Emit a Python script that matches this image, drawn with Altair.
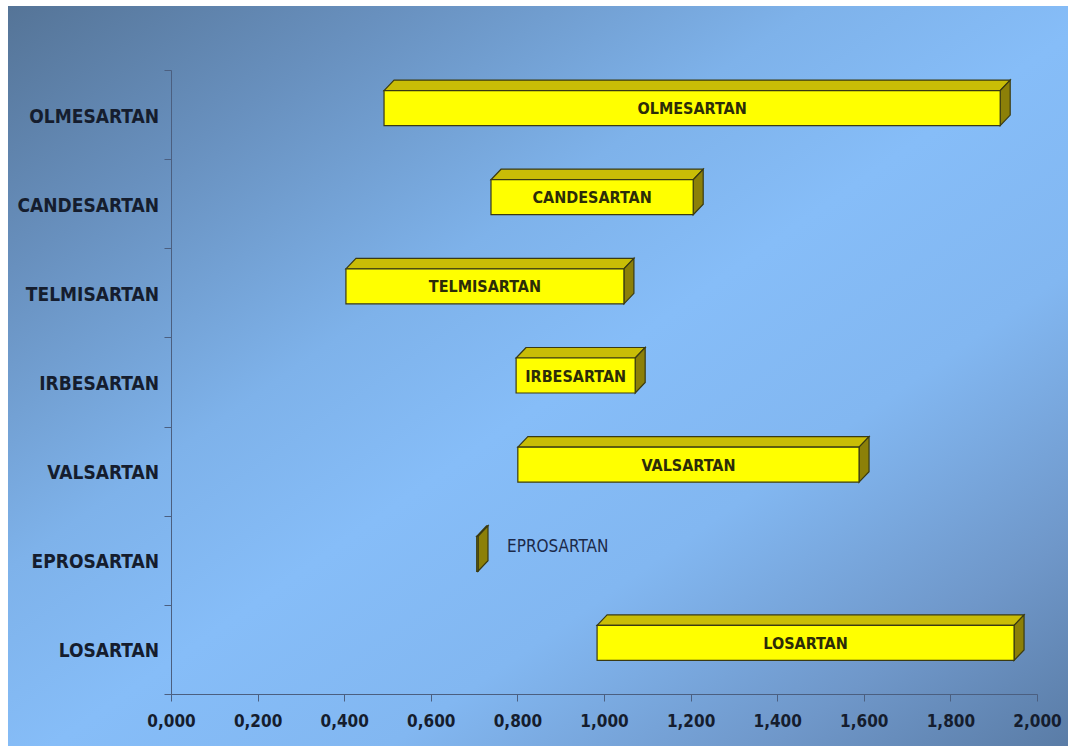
import altair as alt
import pandas as pd

# ---- data ----
categories = ["OLMESARTAN", "CANDESARTAN", "TELMISARTAN", "IRBESARTAN",
              "VALSARTAN", "EPROSARTAN", "LOSARTAN"]
start_vals = [0.492, 0.739, 0.404, 0.797, 0.801, 0.706, 0.984]
end_vals = [1.915, 1.206, 1.046, 1.072, 1.589, 0.709, 1.947]
x_ticks = [0.0, 0.2, 0.4, 0.6, 0.8, 1.0, 1.2, 1.4, 1.6, 1.8, 2.0]

# ---- layout / style ----
W, H = 866, 624
XMAX, YMAX = 2.0, 7.0
FONT = "Liberation Sans Narrow, Arial Narrow, DejaVu Sans Condensed, sans-serif"
DX = 10 / W * XMAX          # 3D depth (horizontal) in data units
DY = 10.5 / H * YMAX        # 3D depth (vertical) in data units
SHIFT = 6.5 / H * YMAX      # front face sits a bit above band centre
HALF = 17.5 / H * YMAX      # half height of front face
FRONT = "#ffff00"
TOP = "#c9bd06"
SIDE = "#8c8008"
EDGE = "#3a3a12"
AXIS_COL = "#4b5f80"
TXT = "#151d2e"

n = len(categories)
bars = pd.DataFrame({"name": categories, "start": start_vals, "end": end_vals})
bars["pos"] = [n - i - 0.5 for i in range(n)]
bars["fc"] = bars["pos"] + SHIFT
bars["ft"] = bars["fc"] + HALF
bars["fb"] = bars["fc"] - HALF
bars["mid"] = (bars["start"] + bars["end"]) / 2
bars["wide"] = (bars["end"] - bars["start"]) >= 0.1

top_rows, side_rows = [], []
for _, r in bars.iterrows():
    top_rows.append({"name": r["name"], "y": r["ft"], "x": r["start"], "x2": r["end"]})
    top_rows.append({"name": r["name"], "y": r["ft"] + DY, "x": r["start"] + DX, "x2": r["end"] + DX})
    side_rows.append({"name": r["name"], "x": r["end"], "y": r["fb"], "y2": r["ft"]})
    side_rows.append({"name": r["name"], "x": r["end"] + DX, "y": r["fb"] + DY, "y2": r["ft"] + DY})
top_df = pd.DataFrame(top_rows)
side_df = pd.DataFrame(side_rows)

xs = alt.Scale(domain=[0, XMAX], nice=False, zero=False)
ys = alt.Scale(domain=[0, YMAX], nice=False, zero=False)

x_axis = alt.Axis(values=x_ticks, grid=False, tickSize=7, tickColor=AXIS_COL,
                  domainColor=AXIS_COL, labelFont=FONT, labelFontSize=17,
                  labelFontWeight="bold", labelColor=TXT, labelPadding=12,
                  labelFlush=False, labelOverlap=False, zindex=1,
                  labelExpr="replace(format(datum.value, '.3f'), '.', ',')")
y_axis = alt.Axis(values=list(range(n + 1)), labels=False, grid=False, tickSize=7,
                  tickColor=AXIS_COL, domainColor=AXIS_COL, zindex=1)


def X(field):
    return alt.X(field, scale=xs, axis=x_axis, title=None)


def Y(field):
    return alt.Y(field, scale=ys, axis=y_axis, title=None)


grad = alt.Gradient(
    gradient="linear", x1=0, y1=0, x2=1, y2=1,
    stops=[
        alt.GradientStop(color="#557497", offset=0.0),
        alt.GradientStop(color="#6890be", offset=0.18),
        alt.GradientStop(color="#7eb2ea", offset=0.38),
        alt.GradientStop(color="#86bdf8", offset=0.52),
        alt.GradientStop(color="#82b7f1", offset=0.68),
        alt.GradientStop(color="#6f97c9", offset=0.86),
        alt.GradientStop(color="#5a7ca6", offset=1.0),
    ],
)

bg = alt.Chart(pd.DataFrame({"a": [0]})).mark_rect(fill=grad).encode(
    x=alt.value(-163), x2=alt.value(1068 - 171),
    y=alt.value(-64), y2=alt.value(746 - 70),
)

front = alt.Chart(bars).mark_rect(fill=FRONT, stroke=EDGE, strokeWidth=1.2).encode(
    x=X("start:Q"), x2="end:Q",
    y=Y("fb:Q"), y2="ft:Q",
)

top = alt.Chart(top_df).mark_area(orient="horizontal", fill=TOP, stroke=EDGE,
                                  strokeWidth=1.2, opacity=1).encode(
    y=Y("y:Q"), x=X("x:Q"), x2="x2:Q", detail="name:N",
)

side = alt.Chart(side_df).mark_area(orient="vertical", fill=SIDE, stroke=EDGE,
                                    strokeWidth=1.2, opacity=1).encode(
    x=X("x:Q"), y=Y("y:Q"), y2="y2:Q", detail="name:N",
)

inside = alt.Chart(bars).transform_filter("datum.wide").mark_text(
    font=FONT, fontSize=16, fontWeight="bold", color="#2c2c08",
    align="center", baseline="middle", dy=1,
).encode(
    x=X("mid:Q"), y=Y("fc:Q"), text="name:N",
)

outside = alt.Chart(bars).transform_filter("!datum.wide").mark_text(
    font=FONT, fontSize=17, color="#1c2a4a",
    align="left", baseline="middle", dx=29, dy=-7,
).encode(
    x=X("end:Q"), y=Y("fc:Q"), text="name:N",
)

ylabels = alt.Chart(bars).mark_text(
    font=FONT, fontSize=19, fontWeight="bold", color=TXT,
    align="right", baseline="middle", dy=2,
).encode(
    x=alt.value(-12), y=Y("pos:Q"), text="name:N",
)

chart = alt.layer(bg, top, side, front, inside, outside, ylabels).properties(
    width=W, height=H,
    autosize=alt.AutoSizeParams(type="none"),
    padding={"left": 171, "top": 70, "right": 31, "bottom": 52},
    background="white",
).configure_view(stroke=None)

chart.save("out.html", embed_options={"renderer": "svg", "actions": False})
